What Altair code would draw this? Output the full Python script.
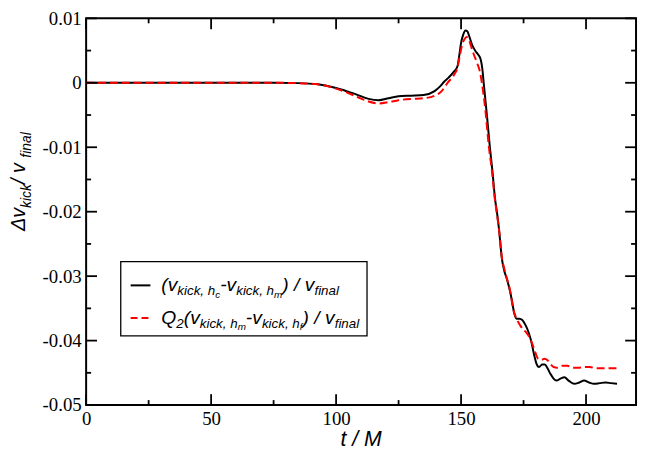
import altair as alt
import pandas as pd

# ---- data ----
t_black = [0, 20, 40, 60, 75, 85, 92, 100, 108, 113, 117, 121, 125, 130, 135,
           139.4, 141.5, 143.3, 145, 147.3, 148.6, 149.3, 150, 150.8, 151.8,
           152.5, 153.2, 154.5, 155.8, 156.8, 157.8, 158.5, 159.1, 160.4, 161.5,
           162.5, 163.6, 164.5, 165.2, 166.3, 167.3, 168.3, 169.5, 170.3, 171.3,
           172.2, 173.3, 174.5, 175.8, 177, 178, 179, 180.2, 181.2, 182.4,
           183.5, 184.6, 185.8, 187, 188.2, 189.8, 191.3, 193.3, 195.3, 197.3,
           199.2, 201.2, 203.2, 205.5, 207.8, 210, 212.4]
v_black = [0, 0, 0, 0, 0, -0.00005, -0.0002, -0.0008, -0.0018, -0.0025,
           -0.0027, -0.0024, -0.0021, -0.0020, -0.0019,
           -0.0013, -0.0006, 0.0002, 0.0008, 0.0018, 0.0026, 0.0043, 0.0062, 0.0074, 0.0081,
           0.0080, 0.0073, 0.0058, 0.0049, 0.0044, 0.0037, 0.0022, -0.0002, -0.0053, -0.0099,
           -0.0135, -0.0180, -0.0205, -0.0228, -0.0272, -0.0292, -0.0304, -0.0322, -0.0337, -0.0358,
           -0.0366, -0.0366, -0.0368, -0.0376, -0.0387, -0.0400, -0.0418, -0.0436, -0.0441, -0.0437,
           -0.0437, -0.0443, -0.0452, -0.0459, -0.0462, -0.0459, -0.0457, -0.0463, -0.0467, -0.0465,
           -0.0462, -0.0465, -0.0467, -0.0466, -0.0465, -0.0466, -0.0467]

t_red = [0, 20, 40, 60, 75, 85, 92, 100, 108, 113, 117, 121, 125, 130, 135,
         139.4, 142, 144.6, 147.3, 148.6, 149.3, 150.5, 151.3, 152.2, 153,
         153.8, 155, 156.5, 157.5, 158.4, 159.8, 161, 162.3, 163.5, 164.5,
         165.3, 166.3, 167.4, 168.5, 169.6, 170.8, 172.2, 173.6, 174.9, 176.2,
         177.5, 178.5, 179.5, 180.8, 182, 183.4, 184.5, 185.7, 187, 188.5,
         190.5, 192.5, 195, 197.3, 199.5, 201.5, 204, 206.5, 209.5, 212.4]
v_red = [0, 0, 0, 0, 0, -0.00005, -0.0002, -0.0009, -0.0021, -0.0029,
         -0.0032, -0.0030, -0.0027, -0.0025, -0.0024,
         -0.0020, -0.0014, 0.0000, 0.0013, 0.0024, 0.0038, 0.0060, 0.0067, 0.0071, 0.0068,
         0.0059, 0.0045, 0.0030, 0.0018, -0.0002, -0.0045, -0.0095, -0.0135, -0.0180, -0.0208,
         -0.0232, -0.0270, -0.0290, -0.0306, -0.0322, -0.0350, -0.0366, -0.0376, -0.0383, -0.0388,
         -0.0396, -0.0405, -0.0416, -0.0428, -0.0430, -0.0428, -0.0430, -0.0436, -0.0441, -0.0442,
         -0.0439, -0.0439, -0.0442, -0.0442, -0.0441, -0.0441, -0.0443, -0.0443, -0.0443, -0.0443]

x_major = [0, 50, 100, 150, 200]
x_minor = [25, 75, 125, 175]
y_major = [-0.05, -0.04, -0.03, -0.02, -0.01, 0.0, 0.01]
y_minor = [-0.045, -0.035, -0.025, -0.015, -0.005, 0.005]

# ---- layout ----
W, H = 556, 391
MAJ, MIN = 11, 5
SANS = "Liberation Sans"
SERIF = "Liberation Serif"

xs = alt.Scale(domain=[0, 220], nice=False, zero=False)
ys = alt.Scale(domain=[-0.05, 0.01], nice=False, zero=False)

xaxis = alt.Axis(values=x_major, ticks=False, domain=False, grid=False,
                 labelFont=SERIF, labelFontSize=19, labelColor="black",
                 labelPadding=5, title=None, labelFlush=False, labelOverlap=False)
yaxis = alt.Axis(values=y_major, ticks=False, domain=False, grid=False,
                 labelFont=SERIF, labelFontSize=19, labelColor="black",
                 labelPadding=5, title=None, labelFlush=False, labelOverlap=False,
                 labelExpr="datum.value == 0 ? '0' : (datum.value < 0 ? '-' : '') + format(abs(datum.value), '.2f')")

df_b = pd.DataFrame({"t": t_black, "v": v_black})
df_r = pd.DataFrame({"t": t_red, "v": v_red})

black = alt.Chart(df_b).mark_line(color="black", strokeWidth=2, interpolate="monotone").encode(
    x=alt.X("t:Q", scale=xs, axis=xaxis), y=alt.Y("v:Q", scale=ys, axis=yaxis))
red = alt.Chart(df_r).mark_line(color="#ff0000", strokeWidth=2, strokeDash=[8, 4],
                                interpolate="monotone").encode(
    x=alt.X("t:Q", scale=xs, axis=xaxis), y=alt.Y("v:Q", scale=ys, axis=yaxis))

layers = [black, red]


def xticks(vals, length, top):
    d = pd.DataFrame({"t": vals})
    if top:
        yy, yy2 = alt.value(0), alt.value(length)
    else:
        yy, yy2 = alt.value(H), alt.value(H - length)
    return alt.Chart(d).mark_rule(color="black", strokeWidth=1.8).encode(
        x=alt.X("t:Q", scale=xs, axis=xaxis), y=yy, y2=yy2)


def yticks(vals, length, right):
    d = pd.DataFrame({"v": vals})
    if right:
        xx, xx2 = alt.value(W), alt.value(W - length)
    else:
        xx, xx2 = alt.value(0), alt.value(length)
    return alt.Chart(d).mark_rule(color="black", strokeWidth=1.8).encode(
        y=alt.Y("v:Q", scale=ys, axis=yaxis), x=xx, x2=xx2)


for top in (False, True):
    layers.append(xticks(x_major, MAJ, top))
    layers.append(xticks(x_minor, MIN, top))
for right in (False, True):
    layers.append(yticks(y_major, MAJ, right))
    layers.append(yticks(y_minor, MIN, right))

# ---- annotation text (with subscripts built from pieces) ----
ARIAL = {"(": 333, ")": 333, "v": 500, "k": 500, "i": 222, "c": 500, ",": 278,
         " ": 278, "h": 556, "m": 833, "-": 333, "/": 278, "f": 278, "n": 556,
         "a": 556, "l": 222, "Q": 778, "2": 556, "Δ": 667, "t": 278, "M": 833}


def tw(s, size):
    return sum(ARIAL.get(ch, 556) for ch in s) * size / 1000.0


dummy = pd.DataFrame({"a": [0]})


def text_layer(txt, size, x, y, angle=0, align="left"):
    kw = dict(text=txt, font=SANS, fontStyle="italic", fontSize=size, align=align,
              baseline="alphabetic", color="black")
    if angle:
        kw["angle"] = angle
    return alt.Chart(dummy).mark_text(**kw).encode(x=alt.value(x), y=alt.value(y))


def run(x0, y0, parts):
    out = []
    pos = x0
    for txt, size, off in parts:
        out.append(text_layer(txt, size, pos, y0 + off))
        pos += tw(txt, size)
    return out


def run_vertical(xbase, ystart, parts):
    out = []
    pos = ystart
    for txt, size, off in parts:
        out.append(text_layer(txt, size, xbase + off, pos, angle=270))
        pos -= tw(txt, size)
    return out


M_, S_, SS_ = 19.5, 13.5, 10

# legend box and samples
box = alt.Chart(dummy).mark_rect(fill="white", stroke="black", strokeWidth=1.3).encode(
    x=alt.value(35), x2=alt.value(284), y=alt.value(246), y2=alt.value(321))
sample_b = alt.Chart(dummy).mark_rule(color="black", strokeWidth=2).encode(
    x=alt.value(45), x2=alt.value(65), y=alt.value(270))
sample_r = alt.Chart(dummy).mark_rule(color="#ff0000", strokeWidth=2, strokeDash=[7, 4]).encode(
    x=alt.value(45), x2=alt.value(66), y=alt.value(303))
layers += [box, sample_b, sample_r]

line1 = [("(v", M_, 0), ("kick, h", S_, 4.3), ("c", SS_, 6.6), ("-v", M_, 0),
         ("kick, h", S_, 4.3), ("m", SS_, 6.6), (") / v", M_, 0), ("final", S_, 4.3)]
line2 = [("Q", M_, 0), ("2", S_, 4.3), ("(v", M_, 0), ("kick, h", S_, 4.3), ("m", SS_, 6.6),
         ("-v", M_, 0), ("kick, h", S_, 4.3), ("f", SS_, 6.6), (") / v", M_, 0), ("final", S_, 4.3)]
layers += run(76, 275.7, line1)
layers += run(76, 309, line2)

# y-axis title
ytitle = [("Δv", 20, 0), ("kick", 14, 6.5), (" / v", 20, 0), ("final", 14, 6.5)]
layers += run_vertical(-62, 215, ytitle)

# x-axis title
layers.append(text_layer("t / M", 21.5, W / 2, 432, align="center"))

chart = alt.layer(*layers).properties(
    width=W, height=H,
    padding={"left": 79, "top": 8, "right": 3, "bottom": 44},
    autosize=alt.AutoSizeParams(type="none"),
    background="white",
).configure_view(stroke="black", strokeWidth=2)

chart.save("out.html", embed_options={"renderer": "svg", "actions": False})
